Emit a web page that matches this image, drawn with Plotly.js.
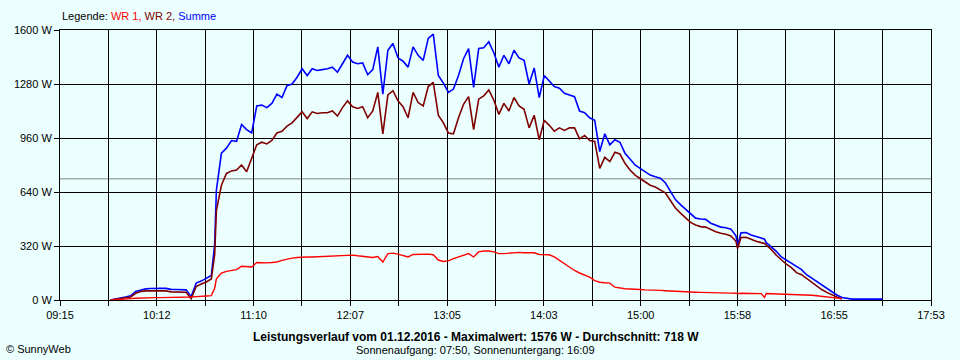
<!DOCTYPE html>
<html>
<head>
<meta charset="utf-8">
<script src="https://cdn.plot.ly/plotly-3.0.1.min.js"></script>
<style>
  html, body { margin: 0; padding: 0; background: #EBFFFF; }
  #chart { width: 960px; height: 360px; }
</style>
</head>
<body>
<div id="chart"></div>
<script>
// ---- data ----
const times = ["09:45","09:48","09:51","09:54","09:57","10:00","10:03","10:06","10:09","10:12",
"10:15","10:18","10:21","10:24","10:27","10:30","10:33","10:36","10:39","10:42",
"10:45","10:47","10:48","10:51","10:54","10:57","11:00","11:03","11:06","11:09",
"11:12","11:15","11:18","11:21","11:24","11:27","11:30","11:33","11:36","11:39",
"11:42","11:45","11:48","11:51","11:54","11:57","12:00","12:03","12:06","12:09",
"12:12","12:15","12:18","12:21","12:24","12:27","12:30","12:33","12:36","12:39",
"12:42","12:45","12:48","12:51","12:54","12:57","13:00","13:03","13:06","13:09",
"13:12","13:15","13:18","13:21","13:24","13:27","13:30","13:33","13:36","13:39",
"13:42","13:45","13:48","13:51","13:54","13:57","14:00","14:03","14:06","14:09",
"14:12","14:15","14:18","14:21","14:24","14:27","14:30","14:33","14:36","14:39",
"14:42","14:45","14:48","14:51","14:54","14:57","15:00","15:03","15:06","15:09",
"15:12","15:15","15:18","15:21","15:24","15:27","15:30","15:33","15:36","15:39",
"15:42","15:45","15:48","15:51","15:54","15:57","15:58","16:00","16:03","16:06",
"16:09","16:12","16:14","16:15","16:18","16:21","16:24","16:27","16:30","16:33",
"16:36","16:39","16:42","16:45","16:48","16:51","16:54","16:57","17:00","17:03",
"17:06","17:09","17:12","17:15","17:18","17:21","17:24"];

const summe = [0,8,12,18,25,50,60,66,68,70,
70,69,63,62,62,60,20,100,112,128,
145,330,650,870,900,945,940,1040,1010,990,
1150,1155,1140,1165,1220,1200,1270,1280,1320,1370,
1330,1370,1360,1365,1370,1380,1350,1400,1450,1410,
1400,1405,1335,1365,1500,1220,1480,1520,1435,1415,
1380,1500,1450,1420,1550,1576,1330,1285,1230,1250,
1330,1430,1490,1260,1490,1495,1530,1465,1380,1450,
1400,1480,1435,1420,1280,1375,1200,1330,1300,1265,
1255,1225,1215,1205,1120,1110,1080,1065,880,985,
920,950,935,870,835,800,780,760,740,730,
722,695,645,595,565,540,510,485,480,478,
455,445,432,428,420,380,325,398,400,385,
378,368,360,340,315,288,255,235,218,198,
180,150,130,105,88,70,48,30,15,8,
5,5,5,5,5,5,5];

const wr2 = [0,5,8,13,18,40,50,54,54,55,
55,54,48,47,47,46,8,80,95,107,
125,270,530,680,750,765,770,800,760,840,
920,935,925,945,990,1000,1030,1050,1080,1115,
1075,1115,1105,1110,1110,1120,1090,1140,1180,1145,
1135,1145,1080,1120,1230,985,1215,1240,1180,1145,
1080,1230,1170,1150,1265,1290,1095,1050,990,985,
1080,1160,1205,1010,1190,1210,1245,1185,1100,1165,
1120,1200,1150,1130,1020,1095,950,1065,1035,1000,
1020,1005,1020,1020,955,975,945,940,780,845,
820,875,865,810,770,740,720,700,680,670,
655,635,590,545,515,490,460,445,435,432,
418,405,395,390,380,348,305,370,372,358,
348,340,335,325,300,265,238,212,192,162,
150,128,102,80,62,45,30,18,6,null,
null,null,null,null,null,null,null];

const wr1 = [0,3,5,6,8,10,12,12,13,14,
14,14,14,14,14,14,18,20,20,24,
26,70,125,160,170,175,180,200,200,196,
222,220,220,222,225,235,243,248,252,255,
255,255,256,258,258,260,260,262,265,266,
262,258,255,252,258,225,275,278,272,265,
255,270,272,270,272,268,237,228,232,245,
255,268,275,255,285,290,290,285,275,275,
278,282,282,280,278,280,270,270,268,255,
235,215,190,175,160,145,135,115,105,102,
100,76,70,67,65,65,62,60,60,58,
57,55,53,50,48,47,47,46,45,45,
44,42,42,41,41,40,38,40,40,39,
39,38,15,38,37,36,36,35,34,34,
33,30,28,25,22,20,15,12,8,null,
null,null,null,null,null,null,null];

const average = [718];
const xTickLabels = ["09:15","10:12","11:10","12:07","13:05","14:03","15:00","15:58","16:55","17:53"];
const yTickValues = [0,320,640,960,1280,1600];

// ---- build chart ----
function toMin(s){ const p = s.split(':').map(Number); return p[0]*60 + p[1]; }
const x = times.map(toMin);

const xStart = toMin(xTickLabels[0]);
const xEnd = toMin(xTickLabels[xTickLabels.length-1]);
const nSteps = (xTickLabels.length - 1) * 2;
const tickvals = [], ticktext = [];
for (let i = 0; i <= nSteps; i++) {
  tickvals.push(xStart + (xEnd - xStart) * i / nSteps);
  ticktext.push(i % 2 === 0 ? xTickLabels[i/2] : '');
}

const FONT = '"Liberation Sans", Arial, sans-serif';

const traces = [
  {x: x, y: summe, name: 'Summe', type: 'scatter', mode: 'lines',
   line: {color: '#0000FF', width: 1.6}, connectgaps: false},
  {x: x, y: wr2, name: 'WR 2', type: 'scatter', mode: 'lines',
   line: {color: '#800000', width: 1.6}, connectgaps: false},
  {x: x, y: wr1, name: 'WR 1', type: 'scatter', mode: 'lines',
   line: {color: '#FF0000', width: 1.4}, connectgaps: false}
];

const layout = {
  width: 960, height: 360,
  paper_bgcolor: '#EBFFFF', plot_bgcolor: '#EBFFFF',
  margin: {l: 60, r: 29, t: 30, b: 60},
  showlegend: false,
  font: {family: FONT, size: 11, color: '#000000'},
  xaxis: {
    type: 'linear', range: [xStart, xEnd],
    tickmode: 'array', tickvals: tickvals, ticktext: ticktext,
    showgrid: true, gridcolor: '#000000', gridwidth: 1,
    ticks: 'outside', ticklen: 5, tickcolor: '#000000', tickwidth: 1,
    showline: true, linecolor: '#000000', linewidth: 1, mirror: true,
    zeroline: false, tickfont: {family: FONT, size: 11, color: '#000'}
  },
  yaxis: {
    range: [0, 1600], tickmode: 'array', tickvals: yTickValues,
    ticktext: yTickValues.map(v => v + ' W'),
    showgrid: true, gridcolor: '#000000', gridwidth: 1,
    ticks: 'outside', ticklen: 5, tickcolor: '#000000', tickwidth: 1,
    showline: true, linecolor: '#000000', linewidth: 1, mirror: true,
    zeroline: false, tickfont: {family: FONT, size: 11, color: '#000'}
  },
  shapes: [{
    type: 'line', xref: 'paper', x0: 0, x1: 1, yref: 'y', y0: average[0], y1: average[0],
    line: {color: '#808080', width: 1}, layer: 'below'
  }],
  annotations: [
    {xref: 'paper', yref: 'paper', x: 0, y: 1, xanchor: 'left', yanchor: 'bottom', yshift: 6,
     showarrow: false, align: 'left', font: {family: FONT, size: 11},
     text: 'Legende: <span style="color:#FF0000">WR 1,</span> <span style="color:#800000">WR 2,</span> <span style="color:#0000FF">Summe</span>'},
    {xref: 'paper', yref: 'paper', x: 0.4772, y: 0, xanchor: 'center', yanchor: 'middle', yshift: -37,
     showarrow: false, font: {family: FONT, size: 12, color: '#000'},
     text: '<b>Leistungsverlauf vom 01.12.2016 - Maximalwert: 1576 W - Durchschnitt: 718 W</b>'},
    {xref: 'paper', yref: 'paper', x: 0.4772, y: 0, xanchor: 'center', yanchor: 'middle', yshift: -50,
     showarrow: false, font: {family: FONT, size: 11, color: '#000'},
     text: 'Sonnenaufgang: 07:50, Sonnenuntergang: 16:09'},
    {xref: 'paper', yref: 'paper', x: -0.064, y: 0, xanchor: 'left', yanchor: 'middle', yshift: -49,
     showarrow: false, font: {family: FONT, size: 11, color: '#000'},
     text: '© SunnyWeb'}
  ]
};

Plotly.newPlot('chart', traces, layout, {displayModeBar: false, staticPlot: true});
</script>
</body>
</html>
